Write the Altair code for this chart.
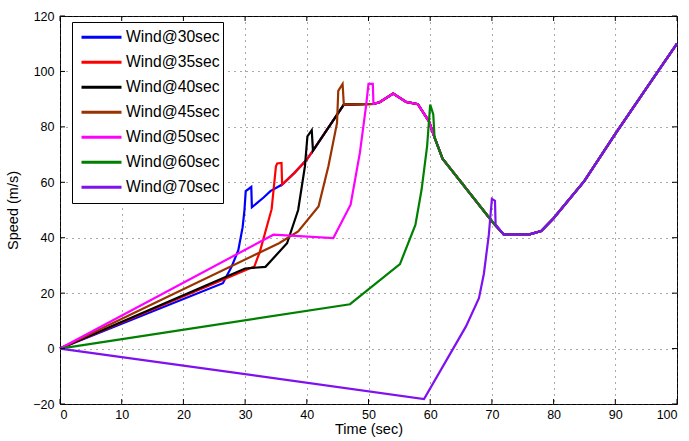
import altair as alt
import pandas as pd

series_names = ["Wind@30sec", "Wind@35sec", "Wind@40sec", "Wind@45sec",
                "Wind@50sec", "Wind@60sec", "Wind@70sec"]
series_colors = ["#0000FF", "#FF0000", "#000000", "#993300",
                 "#FF00FF", "#008000", "#7F10F0"]

# shared trajectory that every run follows once it has re-joined it
common_t = [31.1, 33.0, 34.1, 36.0, 38.0, 40.0, 41.0, 46.0, 50.8, 51.8, 54.0,
            56.1, 58.0, 59.8, 60.7, 62.0, 70.2, 71.9, 76.1, 78.0, 80.0, 85.0,
            90.0, 95.0, 100.0]
common_s = [51.0, 54.5, 56.8, 59.2, 63.4, 68.2, 71.4, 88.0, 88.3, 88.9, 92.0,
            89.0, 88.2, 82.0, 76.2, 68.5, 45.4, 41.2, 41.2, 42.4, 47.0, 60.5,
            77.5, 93.8, 110.0]

w30_t = [0, 26.4, 27.8, 28.9, 29.6, 29.9, 30.1, 31.0]
w30_s = [0, 23.6, 29.5, 35.5, 43.8, 50.0, 56.8, 58.3]
w30_join = 0

w35_t = [0, 31.5, 32.4, 34.3, 35.0, 35.2, 35.9]
w35_s = [0, 29.6, 35.0, 50.3, 65.8, 66.8, 67.0]
w35_join = 3

w40_t = [0, 30.0, 33.3, 36.8, 38.6, 39.7, 40.1, 40.8]
w40_s = [0, 28.9, 29.5, 38.0, 50.0, 65.8, 76.6, 78.8]
w40_join = 6

w45_t = [0, 35.5, 38.6, 41.9, 43.5, 44.9, 45.1, 45.8]
w45_s = [0, 38.0, 42.3, 51.3, 65.8, 81.4, 93.0, 95.5]
w45_join = 7

w50_t = [0, 34.6, 44.3, 47.1, 48.6, 49.6, 50.0, 50.7]
w50_s = [0, 41.1, 39.9, 51.9, 70.6, 87.5, 95.5, 95.5]
w50_join = 8

w60_t = [0, 47.0, 55.1, 57.6, 58.6, 59.5, 60.0, 60.5]
w60_s = [0, 16.0, 30.5, 44.6, 57.3, 73.0, 88.0, 84.5]
w60_join = 14

w70_t = [0, 59.0, 65.8, 67.9, 68.7, 69.5, 70.0, 70.5, 70.6]
w70_s = [0, -18.2, 8.0, 18.2, 27.0, 41.0, 54.0, 53.3, 44.8]
w70_join = 17

x_ticks = [0, 10, 20, 30, 40, 50, 60, 70, 80, 90, 100]
y_ticks = [-20, 0, 20, 40, 60, 80, 100, 120]

heads = [(w30_t, w30_s, w30_join), (w35_t, w35_s, w35_join),
         (w40_t, w40_s, w40_join), (w45_t, w45_s, w45_join),
         (w50_t, w50_s, w50_join), (w60_t, w60_s, w60_join),
         (w70_t, w70_s, w70_join)]

rows = []
for name, (ht, hs, j) in zip(series_names, heads):
    ts = ht + common_t[j:]
    ss = hs + common_s[j:]
    for i, (t, s) in enumerate(zip(ts, ss)):
        rows.append({"series": name, "t": t, "s": s, "idx": i})
df = pd.DataFrame(rows)

W, H = 617, 388
xscale = alt.Scale(domain=[0, 100], nice=False, zero=False)
yscale = alt.Scale(domain=[-20, 120], nice=False, zero=False)
xaxis = alt.Axis(values=x_ticks, grid=True, tickSize=0, domain=False,
                 labelPadding=4, titlePadding=2, format="d")
yaxis = alt.Axis(values=y_ticks, grid=True, tickSize=0, domain=False,
                 labelPadding=6, titlePadding=12, format="d")
XT, YT = "Time (sec)", "Speed (m/s)"

lines = alt.Chart(df).mark_line(strokeWidth=2.2, strokeJoin="miter").encode(
    x=alt.X("t:Q", scale=xscale, title=XT, axis=xaxis),
    y=alt.Y("s:Q", scale=yscale, title=YT, axis=yaxis),
    color=alt.Color("series:N",
                    scale=alt.Scale(domain=series_names, range=series_colors),
                    legend=alt.Legend(title=None, orient="none", legendX=12, legendY=6,
                                      direction="vertical", symbolType="stroke",
                                      symbolSize=1600, symbolStrokeWidth=3,
                                      labelFontSize=15.7, labelFont="Liberation Sans",
                                      labelColor="black", fillColor="white",
                                      strokeColor="black", padding=3,
                                      symbolOffset=5, labelOffset=3,
                                      clipHeight=24.67, rowPadding=0,
                                      labelLimit=300)),
    order=alt.Order("idx:Q"),
)

xt = pd.DataFrame({"t": x_ticks})
yt = pd.DataFrame({"s": y_ticks})

xtick_bottom = alt.Chart(xt).mark_rule(color="black", strokeWidth=1).encode(
    x=alt.X("t:Q", scale=xscale, title=XT, axis=xaxis), y=alt.value(H), y2=alt.value(H - 5))
xtick_top = alt.Chart(xt).mark_rule(color="black", strokeWidth=1).encode(
    x=alt.X("t:Q", scale=xscale, title=XT, axis=xaxis), y=alt.value(0), y2=alt.value(5))
ytick_left = alt.Chart(yt).mark_rule(color="black", strokeWidth=1).encode(
    y=alt.Y("s:Q", scale=yscale, title=YT, axis=yaxis), x=alt.value(0), x2=alt.value(5))
ytick_right = alt.Chart(yt).mark_rule(color="black", strokeWidth=1).encode(
    y=alt.Y("s:Q", scale=yscale, title=YT, axis=yaxis), x=alt.value(W), x2=alt.value(W - 5))

chart = alt.layer(lines, xtick_bottom, xtick_top, ytick_left, ytick_right).properties(
    width=W, height=H,
    autosize=alt.AutoSizeParams(type="none"),
    padding={"left": 60, "top": 16, "right": 12, "bottom": 37},
).configure_view(stroke="black", strokeWidth=1).configure_axis(
    labelFont="Liberation Sans", titleFont="Liberation Sans",
    labelFontSize=12.5, titleFontSize=14.5, labelColor="black", titleColor="black",
    titleFontWeight="normal", gridColor="#444444", gridDash=[1, 5],
    gridWidth=1, gridOpacity=0.9,
)

chart.save("out.html", embed_options={"renderer": "svg", "actions": False})
